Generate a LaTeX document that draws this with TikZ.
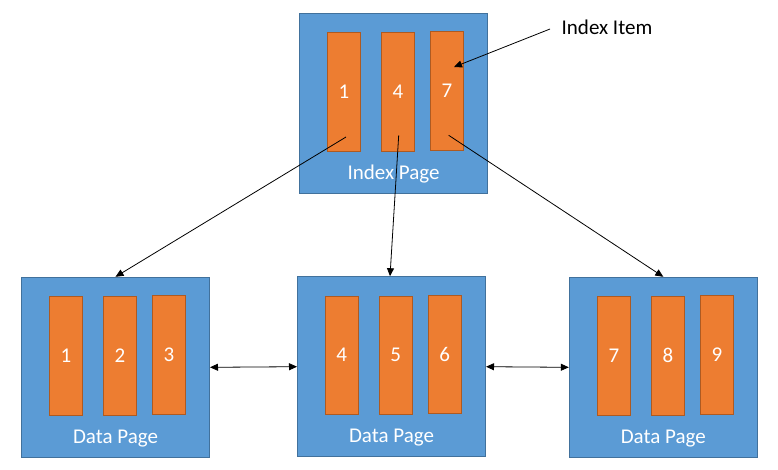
\documentclass[tikz,border=0pt]{standalone}
\usepackage{fontspec}
\setmainfont{Carlito}
\usetikzlibrary{arrows.meta}
\definecolor{pblue}{HTML}{5B9BD5}
\definecolor{pblueb}{HTML}{41719C}
\definecolor{porange}{HTML}{ED7D31}
\definecolor{porangeb}{HTML}{AE5A21}
\begin{document}
\begin{tikzpicture}[x=1pt,y=-1pt,
  pagebox/.style={draw=pblueb,fill=pblue,line width=1pt,minimum width=188pt,minimum height=180pt,inner sep=0pt},
  bar/.style={draw=porangeb,fill=porange,line width=0.8pt,minimum width=33pt,minimum height=118.5pt,inner sep=0pt,text=white,font=\fontsize{21}{25}\selectfont},
  lbl/.style={text=white,font=\fontsize{21}{25}\selectfont,inner sep=0pt},
  tip/.tip={Triangle[length=8pt,width=7pt]},
  link/.style={-tip,line width=0.8pt},
  dlink/.style={tip-tip,line width=0.8pt}]
\useasboundingbox (0,0) rectangle (778,469);
% index page
\node[pagebox] (ip) at (393.5,103.3) {};
\node[bar] (i1) at (344,91.7) {1};
\node[bar] (i4) at (398,91.7) {4};
\node[bar] (i7) at (447,90.8) {7};
\node[lbl] (ipl) at (393.5,174) {Index Page};
% data pages
\node[pagebox] (d1) at (115.5,367.3) {};
\node[bar] (a1) at (66,355.8) {1};
\node[bar] (a2) at (120,355.8) {2};
\node[bar] (a3) at (169,354.8) {3};
\node[lbl] (d1l) at (115.5,438.5) {Data Page};
\node[pagebox] (d2) at (391.5,366.7) {};
\node[bar] (b1) at (341.7,355.2) {4};
\node[bar] (b2) at (395.7,355.2) {5};
\node[bar] (b3) at (444.7,354.2) {6};
\node[lbl] (d2l) at (391.5,438) {Data Page};
\node[pagebox] (d3) at (663.3,367.3) {};
\node[bar] (c1) at (614,355.8) {7};
\node[bar] (c2) at (668,355.8) {8};
\node[bar] (c3) at (717,354.8) {9};
\node[lbl] (d3l) at (663.3,438.5) {Data Page};
% index item label
\node[font=\fontsize{21}{25}\selectfont,inner sep=0pt] (ii) at (607,27) {Index Item};
\coordinate (ia) at (550,29);
\coordinate (it) at (454,67);
\draw[link] (ia) -- (it);
% pointers
\coordinate (s1) at (346,137);
\coordinate (s4) at (398.7,135.3);
\coordinate (s7) at (448.7,135.3);
\draw[link] (s1) -- (d1.north);
\draw[link] (s4) -- ([xshift=-1.5pt]d2.north);
\draw[link] (s7) -- (d3.north);
\draw[dlink] (d1.east) -- (d2.west);
\draw[dlink] (d2.east) -- (d3.west);
\end{tikzpicture}
\end{document}
